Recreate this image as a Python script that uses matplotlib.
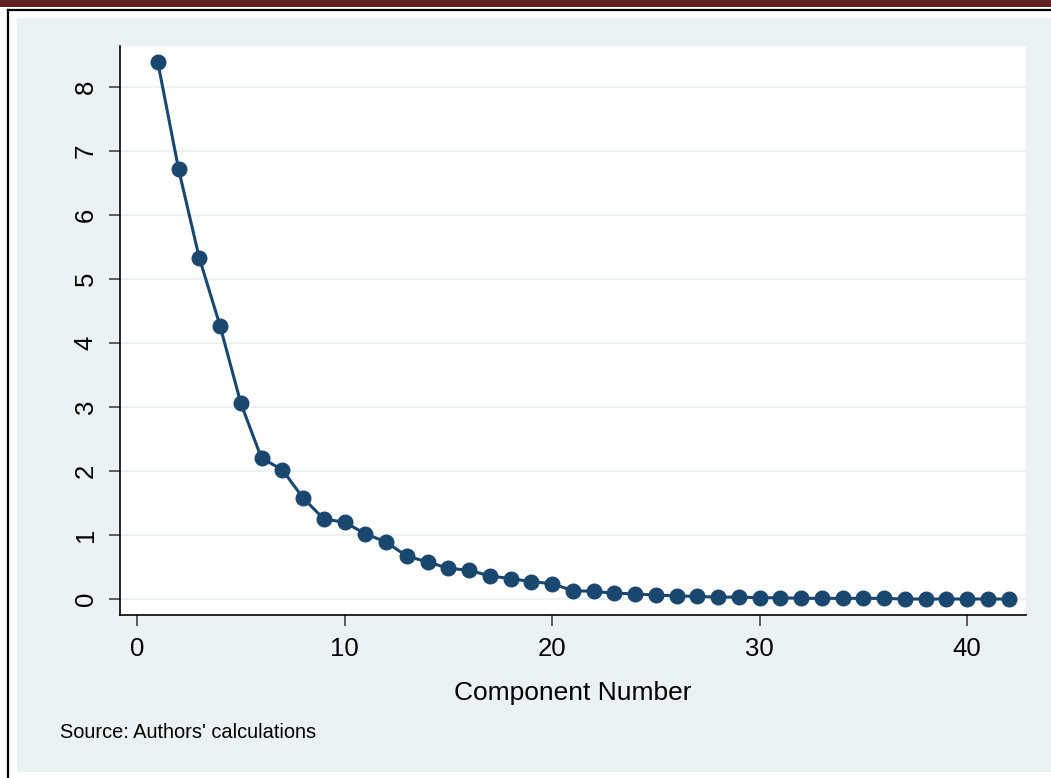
import matplotlib
matplotlib.use("Agg")
import matplotlib.pyplot as plt
from matplotlib.patches import Rectangle
from matplotlib.lines import Line2D

plt.rcParams['font.family'] = ['Liberation Sans', 'DejaVu Sans']

# eigenvalues
components = list(range(1, 43))
eigenvalues = [8.39, 6.72, 5.33, 4.27, 3.06, 2.20, 2.02, 1.58, 1.25, 1.20,
               1.02, 0.89, 0.67, 0.58, 0.48, 0.45, 0.36, 0.32, 0.27, 0.24,
               0.13, 0.12, 0.09, 0.08, 0.06, 0.05, 0.04, 0.03, 0.03, 0.02,
               0.02, 0.01, 0.01, 0.01, 0.01, 0.01, 0.0, 0.0, 0.0, 0.0,
               0.0, 0.0]
xticks = [0, 10, 20, 30, 40]
yticks = [0, 1, 2, 3, 4, 5, 6, 7, 8]

W, H = 1051, 778
navy = '#1a476f'
bg = '#eaf2f3'

fig = plt.figure(figsize=(W / 100, H / 100), dpi=100, facecolor='white')

def px(x0, y0, x1, y1):
    # pixel box (top-left origin) -> figure fraction rect
    return (x0 / W, 1 - y1 / H), (x1 - x0) / W, (y1 - y0) / H

# page decorations: dark red band, black frame, light background
xy, w, h = px(0, 0, W, 7)
fig.add_artist(Rectangle(xy, w, h, transform=fig.transFigure, color='#5e2022', lw=0))
fig.add_artist(Line2D([8 / W, 1], [1 - 9.5 / H, 1 - 9.5 / H], transform=fig.transFigure,
                      color='black', lw=1.6))
fig.add_artist(Line2D([8 / W, 8 / W], [0, 1 - 9.5 / H], transform=fig.transFigure,
                      color='black', lw=1.6))
xy, w, h = px(17, 18, W, 772)
fig.add_artist(Rectangle(xy, w, h, transform=fig.transFigure, color=bg, lw=0, zorder=0))

xy, w, h = px(120, 46, 1026, 615)
ax = fig.add_axes([xy[0], xy[1], w, h])
ax.set_facecolor('white')

ax.plot(components, eigenvalues, color=navy, lw=2.2, marker='o', markersize=10.5,
        markeredgecolor=navy, zorder=3)

ax.set_xlim(-0.82, 42.84)
ax.set_ylim(-0.25, 8.64)
ax.set_xticks(xticks)
ax.set_yticks(yticks)
ax.grid(axis='y', color=bg, lw=1.6)
ax.set_axisbelow(True)

for s in ['top', 'right']:
    ax.spines[s].set_visible(False)
for s in ['left', 'bottom']:
    ax.spines[s].set_linewidth(1.2)
    ax.spines[s].set_color('black')

ax.tick_params(axis='both', length=8, width=1.1, color='#333333', labelsize=18.5, pad=8)
for lab in ax.get_yticklabels():
    lab.set_rotation(90)
    lab.set_va('center')

ax.set_xlabel('Component Number', fontsize=19, labelpad=14)

fig.text(60 / W, 1 - 733 / H, "Source: Authors' calculations", fontsize=14.4,
         va='center', ha='left')

fig.savefig('out.png', dpi=100, facecolor=fig.get_facecolor())
